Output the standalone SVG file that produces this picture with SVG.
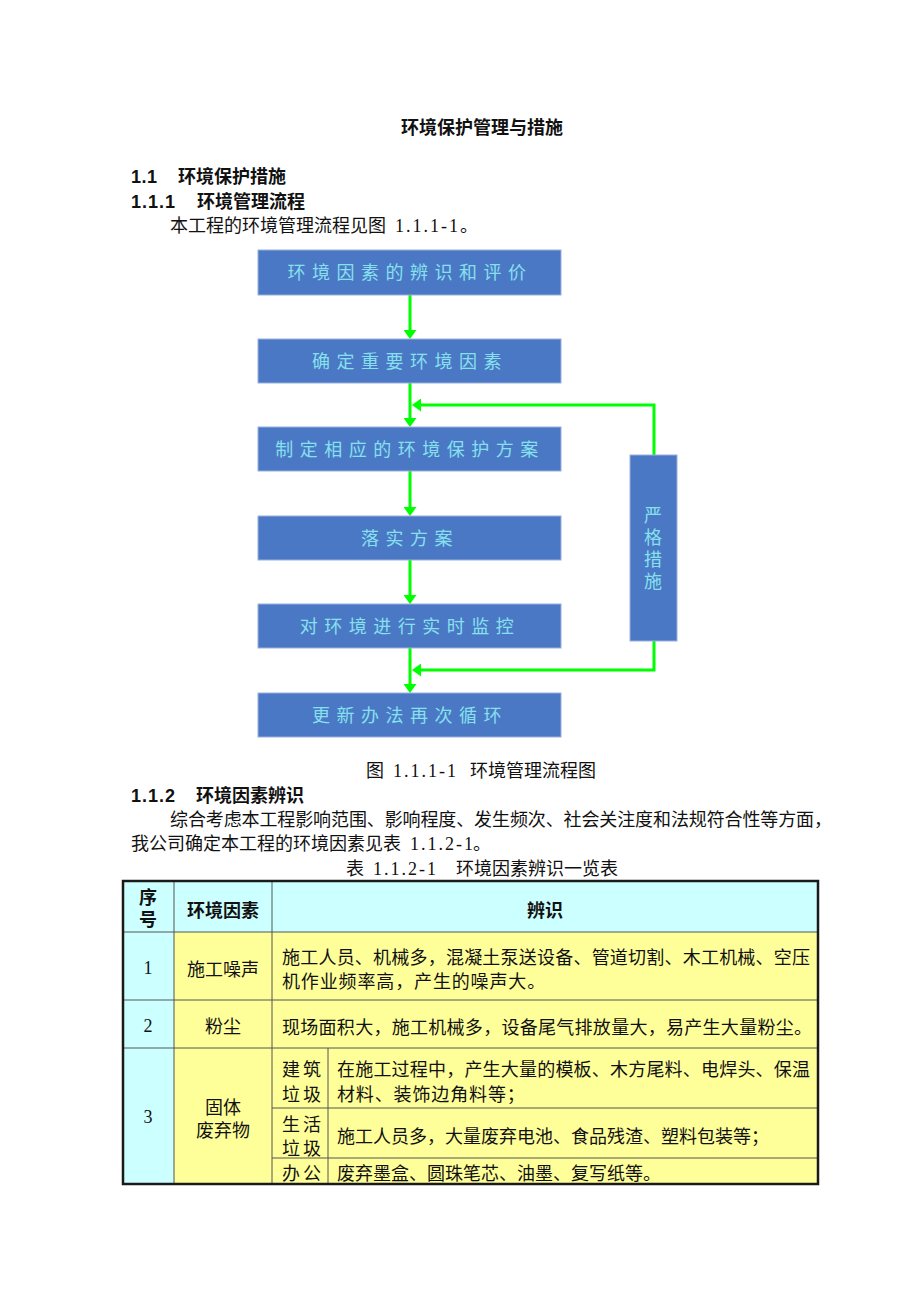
<svg xmlns="http://www.w3.org/2000/svg" width="920" height="1302" viewBox="0 0 920 1302">
<defs>
<style>
.t{font-family:"Liberation Serif","Noto Sans CJK SC",serif;font-size:18px;fill:#111}
.h{font-family:"Liberation Sans","Noto Sans CJK SC",sans-serif;font-size:18px;font-weight:bold;fill:#111}
.box{fill:#4a78c4;stroke:#9ab0dc;stroke-width:1}
.bt{font-family:"Noto Sans CJK SC",sans-serif;font-size:18px;fill:#86e0ee;letter-spacing:6.5px;text-anchor:middle}
.st{font-family:"Noto Sans CJK SC",sans-serif;font-size:18px;fill:#86e0ee;text-anchor:middle;writing-mode:vertical-rl;letter-spacing:4px}
.con{fill:none;stroke:#00ff00;stroke-width:3;marker-end:url(#ah)}
.cy{fill:#ccffff}
.ye{fill:#ffff99}
.grid{stroke:#555;stroke-width:1;fill:none}
.c{text-anchor:middle}
</style>
<marker id="ah" viewBox="0 0 9 13" refX="5" refY="6.5" markerWidth="9" markerHeight="13" markerUnits="userSpaceOnUse" orient="auto">
<path d="M0,0 L9,6.5 L0,13 z" fill="#00ff00"/>
</marker>
</defs>
<rect width="920" height="1302" fill="#ffffff"/>

<g id="page-text">
<text class="h c" x="482" y="134">环境保护管理与措施</text>
<text class="h" x="131" y="183"><tspan x="131" textLength="26">1.1</tspan><tspan x="178">环境保护措施</tspan></text>
<text class="h" x="131" y="208"><tspan x="131" textLength="44">1.1.1</tspan><tspan x="197">环境管理流程</tspan></text>
<text class="t" y="232"><tspan x="170">本工程的环境管理流程见图</tspan><tspan x="395" textLength="63">1.1.1-1</tspan><tspan x="460">。</tspan></text>
<text class="t" y="777"><tspan x="366">图</tspan><tspan x="393" textLength="63">1.1.1-1</tspan><tspan x="470">环境管理流程图</tspan></text>
<text class="h" y="802"><tspan x="131" textLength="44">1.1.2</tspan><tspan x="196">环境因素辨识</tspan></text>
<text class="t" x="170" y="826" textLength="662">综合考虑本工程影响范围、影响程度、发生频次、社会关注度和法规符合性等方面，</text>
<text class="t" y="850"><tspan x="131">我公司确定本工程的环境因素见表</tspan><tspan x="410" textLength="63">1.1.2-1</tspan><tspan x="473">。</tspan></text>
<text class="t" y="875"><tspan x="346">表</tspan><tspan x="373" textLength="63">1.1.2-1</tspan><tspan x="456">环境因素辨识一览表</tspan></text>
</g>

<g id="connectors">
<path class="con" d="M410,295 V335"/>
<path class="con" d="M410,383 V423"/>
<path class="con" d="M410,471 V512"/>
<path class="con" d="M410,560 V600"/>
<path class="con" d="M410,648 V689"/>
<path class="con" d="M654,455 V405 H416"/>
<path class="con" d="M654,641 V670 H416"/>
</g>

<g id="n1"><rect class="box" x="258" y="250" width="303" height="45"/><text class="bt" x="410" y="279">环境因素的辨识和评价</text></g>
<g id="n2"><rect class="box" x="258" y="339" width="303" height="44"/><text class="bt" x="410" y="368">确定重要环境因素</text></g>
<g id="n3"><rect class="box" x="258" y="427" width="303" height="44"/><text class="bt" x="410" y="456">制定相应的环境保护方案</text></g>
<g id="n4"><rect class="box" x="258" y="516" width="303" height="44"/><text class="bt" x="410" y="545">落实方案</text></g>
<g id="n5"><rect class="box" x="258" y="604" width="303" height="44"/><text class="bt" x="410" y="633">对环境进行实时监控</text></g>
<g id="n6"><rect class="box" x="258" y="693" width="303" height="44"/><text class="bt" x="410" y="722">更新办法再次循环</text></g>
<g id="n7"><rect class="box" x="630" y="455" width="47" height="186"/>
<text class="st" x="653" y="550">严格措施</text></g>

<g id="table">
<rect class="cy" x="123" y="881" width="695" height="51"/>
<rect class="cy" x="123" y="932" width="51" height="252"/>
<rect class="ye" x="174" y="932" width="644" height="252"/>
<path class="grid" d="M174,881 V1184 M272,881 V1184 M328,1048 V1184 M123,932 H818 M123,1000 H818 M123,1048 H818 M272,1108 H818 M272,1158 H818"/>
<rect x="123" y="881" width="695" height="303" fill="none" stroke="#1a1a1a" stroke-width="2.5"/>

<text class="h c" x="148" y="904">序</text>
<text class="h c" x="148" y="926">号</text>
<text class="h c" x="223" y="917">环境因素</text>
<text class="h c" x="545" y="917">辨识</text>

<text class="t c" x="148" y="974">1</text>
<text class="t c" x="223" y="976">施工噪声</text>
<text class="t" x="282" y="964" textLength="528">施工人员、机械多，混凝土泵送设备、管道切割、木工机械、空压</text>
<text class="t" x="282" y="988" style="letter-spacing:0.86px">机作业频率高，产生的噪声大。</text>

<text class="t c" x="148" y="1032">2</text>
<text class="t c" x="223" y="1033">粉尘</text>
<text class="t" x="282" y="1034" textLength="530">现场面积大，施工机械多，设备尾气排放量大，易产生大量粉尘。</text>

<text class="t c" x="148" y="1123">3</text>
<text class="t c" x="223" y="1114">固体</text>
<text class="t c" x="223" y="1137">废弃物</text>
<text class="t" x="282" y="1076" style="letter-spacing:3px">建筑</text>
<text class="t" x="282" y="1101" style="letter-spacing:3px">垃圾</text>
<text class="t" x="337" y="1076" textLength="473">在施工过程中，产生大量的模板、木方尾料、电焊头、保温</text>
<text class="t" x="337" y="1101" style="letter-spacing:0.86px">材料、装饰边角料等；</text>
<text class="t" x="282" y="1131" style="letter-spacing:3px">生活</text>
<text class="t" x="282" y="1155" style="letter-spacing:3px">垃圾</text>
<text class="t" x="337" y="1143">施工人员多，大量废弃电池、食品残渣、塑料包装等；</text>
<text class="t" x="282" y="1180" style="letter-spacing:3px">办公</text>
<text class="t" x="337" y="1180">废弃墨盒、圆珠笔芯、油墨、复写纸等。</text>
</g>
</svg>
